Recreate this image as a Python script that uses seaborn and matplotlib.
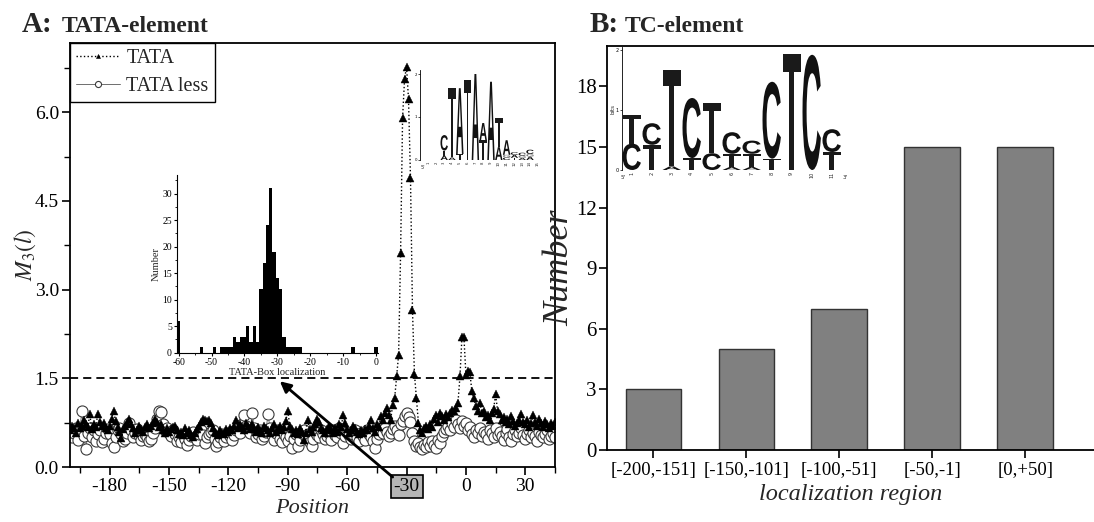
import numpy as np
import pandas as pd
import seaborn as sns
import matplotlib.pyplot as plt
import matplotlib.ticker as ticker
from matplotlib.textpath import TextPath
from matplotlib.patches import PathPatch
from matplotlib.font_manager import FontProperties
from matplotlib.transforms import Affine2D

# ---- data: panel A, M3(l) profiles (positions -200..45) ----
positions = list(range(-200, 46))

tata = [
    0.62, 0.70, 0.66, 0.58, 0.74, 0.66, 0.70, 0.80, 0.72, 0.68,
    0.89, 0.64, 0.72, 0.68, 0.89, 0.76, 0.70, 0.74, 0.66, 0.62,
    0.70, 0.82, 0.95, 0.78, 0.68, 0.60, 0.49, 0.64, 0.70, 0.74,
    0.82, 0.72, 0.66, 0.58, 0.62, 0.70, 0.64, 0.60, 0.68, 0.72,
    0.66, 0.70, 0.74, 0.82, 0.76, 0.68, 0.72, 0.62, 0.58, 0.66,
    0.60, 0.64, 0.68, 0.70, 0.62, 0.56, 0.60, 0.54, 0.66, 0.58,
    0.62, 0.54, 0.50, 0.58, 0.64, 0.70, 0.76, 0.82, 0.80, 0.78,
    0.80, 0.74, 0.66, 0.60, 0.58, 0.54, 0.62, 0.58, 0.56, 0.64,
    0.60, 0.66, 0.62, 0.70, 0.79, 0.66, 0.72, 0.68, 0.62, 0.74,
    0.70, 0.64, 0.72, 0.66, 0.60, 0.68, 0.62, 0.58, 0.70, 0.66,
    0.62, 0.58, 0.66, 0.72, 0.60, 0.64, 0.70, 0.62, 0.68, 0.78,
    0.95, 0.70, 0.64, 0.58, 0.62, 0.56, 0.66, 0.60, 0.46, 0.58,
    0.80, 0.64, 0.60, 0.68, 0.72, 0.82, 0.76, 0.66, 0.62, 0.58,
    0.64, 0.70, 0.62, 0.58, 0.66, 0.60, 0.72, 0.68, 0.88, 0.74,
    0.64, 0.58, 0.62, 0.70, 0.66, 0.60, 0.56, 0.62, 0.58, 0.64,
    0.62, 0.70, 0.79, 0.66, 0.60, 0.72, 0.68, 0.87, 0.80, 0.92,
    1.00, 0.88, 0.80, 1.05, 1.16, 1.54, 1.90, 3.62, 5.90, 6.56,
    6.77, 6.22, 4.89, 2.66, 1.57, 1.16, 0.75, 0.62, 0.58, 0.66,
    0.70, 0.64, 0.72, 0.68, 0.82, 0.88, 0.76, 0.92, 0.86, 0.80,
    0.90, 0.84, 0.92, 0.96, 0.95, 1.00, 1.09, 1.54, 2.20, 2.19,
    1.56, 1.62, 1.60, 1.28, 1.16, 1.03, 0.95, 1.09, 0.92, 0.95,
    0.84, 0.88, 0.80, 0.92, 0.98, 1.23, 0.95, 0.89, 0.80, 0.84,
    0.76, 0.82, 0.72, 0.86, 0.78, 0.70, 0.74, 0.80, 0.89, 0.76,
    0.72, 0.80, 0.68, 0.74, 0.88, 0.76, 0.70, 0.82, 0.74, 0.68,
    0.78, 0.72, 0.66, 0.74, 0.70, 0.76,
]

tata_less = [
    0.62, 0.50, 0.58, 0.66, 0.45, 0.62, 0.95, 0.52, 0.30, 0.58,
    0.66, 0.50, 0.62, 0.44, 0.56, 0.62, 0.42, 0.48, 0.58, 0.64,
    0.56, 0.40, 0.34, 0.50, 0.62, 0.66, 0.56, 0.44, 0.48, 0.58,
    0.74, 0.62, 0.50, 0.58, 0.64, 0.54, 0.46, 0.52, 0.56, 0.50,
    0.44, 0.48, 0.58, 0.66, 0.82, 0.95, 0.93, 0.72, 0.62, 0.66,
    0.58, 0.52, 0.62, 0.56, 0.44, 0.50, 0.42, 0.54, 0.48, 0.38,
    0.46, 0.52, 0.60, 0.50, 0.46, 0.56, 0.62, 0.54, 0.40, 0.50,
    0.56, 0.60, 0.62, 0.48, 0.36, 0.42, 0.50, 0.56, 0.44, 0.50,
    0.58, 0.52, 0.46, 0.54, 0.62, 0.66, 0.58, 0.72, 0.88, 0.70,
    0.62, 0.58, 0.92, 0.66, 0.50, 0.56, 0.62, 0.48, 0.52, 0.60,
    0.90, 0.66, 0.54, 0.46, 0.58, 0.62, 0.48, 0.42, 0.56, 0.50,
    0.44, 0.52, 0.32, 0.48, 0.56, 0.35, 0.46, 0.58, 0.62, 0.50,
    0.56, 0.42, 0.35, 0.48, 0.60, 0.54, 0.50, 0.62, 0.56, 0.48,
    0.52, 0.58, 0.46, 0.62, 0.54, 0.50, 0.66, 0.58, 0.40, 0.52,
    0.60, 0.54, 0.48, 0.56, 0.62, 0.50, 0.44, 0.58, 0.52, 0.46,
    0.62, 0.56, 0.50, 0.44, 0.32, 0.48, 0.56, 0.62, 0.58, 0.66,
    0.60, 0.52, 0.58, 0.64, 0.70, 0.62, 0.54, 0.72, 0.78, 0.87,
    0.92, 0.84, 0.76, 0.58, 0.44, 0.36, 0.40, 0.33, 0.30, 0.38,
    0.34, 0.42, 0.36, 0.44, 0.38, 0.32, 0.46, 0.40, 0.52, 0.60,
    0.64, 0.70, 0.62, 0.74, 0.68, 0.80, 0.72, 0.66, 0.78, 0.70,
    0.74, 0.62, 0.68, 0.56, 0.50, 0.62, 0.58, 0.66, 0.52, 0.60,
    0.56, 0.48, 0.62, 0.58, 0.50, 0.66, 0.54, 0.60, 0.52, 0.46,
    0.58, 0.64, 0.50, 0.44, 0.56, 0.62, 0.52, 0.58, 0.66, 0.54,
    0.48, 0.56, 0.62, 0.50, 0.58, 0.52, 0.44, 0.60, 0.54, 0.50,
    0.56, 0.62, 0.48, 0.52, 0.58, 0.50,
]

threshold = 1.5

# inset histogram: TATA-box localization
hist_pos = [-60, -53, -49, -47, -46, -45, -44, -43, -42, -41, -40, -39, -38, -37, -36,
            -35, -34, -33, -32, -31, -30, -29, -28, -27, -26, -25, -24, -23, -7, 0]
hist_counts = [6, 1, 1, 1, 1, 1, 1, 3, 2, 3, 3, 5, 2, 5, 2,
               12, 17, 24, 31, 19, 14, 12, 3, 1, 1, 1, 1, 1, 1, 1]

# sequence logos (bottom -> top stacks, heights in bits)
logo_tata = [[], [],
             [('A', 0.10), ('T', 0.12), ('C', 0.36)],
             [('A', 0.06), ('T', 1.62)],
             [('T', 0.14), ('A', 1.53)],
             [('T', 1.86)],
             [('A', 2.0)],
             [('T', 0.46), ('A', 0.40)],
             [('A', 1.82)],
             [('A', 0.30), ('T', 0.68)],
             [('C', 0.06), ('G', 0.06), ('A', 0.34)],
             [('T', 0.05), ('A', 0.07), ('C', 0.06)],
             [('A', 0.05), ('G', 0.05), ('C', 0.07)],
             [('A', 0.08), ('G', 0.06), ('C', 0.10)],
             []]
logo_tc = [[('C', 0.44), ('T', 0.48)],
           [('T', 0.42), ('C', 0.36)],
           [('A', 0.06), ('T', 1.60)],
           [('T', 0.20), ('C', 1.00)],
           [('C', 0.28), ('T', 0.84)],
           [('A', 0.05), ('T', 0.22), ('C', 0.36)],
           [('A', 0.05), ('T', 0.22), ('C', 0.22)],
           [('T', 0.19), ('C', 1.28)],
           [('T', 1.94)],
           [('C', 1.92)],
           [('T', 0.30), ('C', 0.38)]]

# ---- data: panel B ----
regions = ['[-200,-151]', '[-150,-101]', '[-100,-51]', '[-50,-1]', '[0,+50]']
region_counts = [3, 5, 7, 15, 15]

sns.set_style('ticks')
plt.rcParams['font.family'] = ['Liberation Serif', 'DejaVu Serif']
plt.rcParams['mathtext.fontset'] = 'stix'
plt.rcParams['axes.unicode_minus'] = False
plt.rcParams['axes.edgecolor'] = 'black'
plt.rcParams['xtick.color'] = 'black'
plt.rcParams['ytick.color'] = 'black'

W, H = 1094, 522
fig = plt.figure(figsize=(W / 100, H / 100), dpi=100)

letter_font = FontProperties(family='Liberation Sans', weight='bold')
letter_colors = {'A': '#111111', 'C': '#111111', 'G': '#7a7a7a', 'T': '#1a1a1a'}


def draw_letter(ax, ch, x, y, w, h):
    tp = TextPath((0, 0), ch, size=1, prop=letter_font)
    bb = tp.get_extents()
    tr = Affine2D().translate(-bb.x0, -bb.y0).scale(w / bb.width, h / bb.height).translate(x, y)
    ax.add_patch(PathPatch(tr.transform_path(tp), facecolor=letter_colors[ch], edgecolor='none', lw=0))


def draw_logo(ax, stacks, width, fs):
    for i, stack in enumerate(stacks):
        pos = i + 1
        y0 = 0
        for ch, h in stack:
            draw_letter(ax, ch, pos - width / 2, y0, width, h)
            y0 += h
        ax.text(pos, -0.03, str(pos), rotation=90, fontsize=fs, ha='center', va='top',
                family='DejaVu Sans', clip_on=False)
    for s in ['top', 'right', 'bottom']:
        ax.spines[s].set_visible(False)
    ax.spines['left'].set_linewidth(0.6)
    ax.set_xticks([])
    ax.set_yticks([0, 1, 2])
    ax.set_yticklabels(['0', '1', '2'], family='DejaVu Sans')
    ax.tick_params(axis='y', labelsize=fs, length=1.5, width=0.5, pad=0.5)
    ax.patch.set_alpha(0)


# ---------------- Panel A ----------------
axA = fig.add_axes([70 / W, 1 - 467 / H, (555 - 70) / W, (467 - 43) / H])
sns.lineplot(x=positions, y=tata_less, ax=axA, color='#6e6e6e', lw=0.7, marker='o',
             markersize=8, markerfacecolor='white', markeredgecolor='#3a3a3a',
             markeredgewidth=0.8, label='TATA less', errorbar=None)
sns.lineplot(x=positions, y=tata, ax=axA, color='black', lw=1.0, linestyle=':', marker='^',
             markersize=5.5, markeredgecolor='black', markeredgewidth=0.3,
             label='TATA', errorbar=None)
axA.axhline(threshold, color='black', lw=1.3, ls=(0, (4.5, 2.8)))
axA.set_xlim(-200, 45)
axA.set_ylim(0, 7.17)
xt = list(range(-180, 31, 30))
axA.set_xticks(xt)
axA.set_xticklabels([str(v) for v in xt])
axA.xaxis.set_minor_locator(ticker.MultipleLocator(15))
axA.set_yticks([0, 1.5, 3.0, 4.5, 6.0])
axA.set_yticklabels(['0.0', '1.5', '3.0', '4.5', '6.0'])
axA.yaxis.set_minor_locator(ticker.MultipleLocator(0.75))
axA.tick_params(axis='both', which='major', labelsize=14, length=6, width=1.2, direction='out', pad=2)
axA.tick_params(axis='both', which='minor', length=4, width=1.0, direction='out')
for s in axA.spines.values():
    s.set_linewidth(1.3)
for lab in axA.get_xticklabels():
    if lab.get_text() == '-30':
        lab.set_bbox(dict(facecolor='#b5b5b5', edgecolor='black', boxstyle='square,pad=0.15', lw=1.2))
axA.set_xlabel('Position', fontsize=16, style='italic', labelpad=3)
axA.set_ylabel(r'$M_3(l)$', fontsize=17)
axA.yaxis.set_label_coords(-0.066, 0.5)
handles, labels = axA.get_legend_handles_labels()
order = [labels.index('TATA'), labels.index('TATA less')]
leg = axA.legend([handles[i] for i in order], [labels[i] for i in order], loc='upper left',
                 borderaxespad=0, fancybox=False, edgecolor='black', framealpha=1,
                 fontsize=14.5, markerscale=0.55, handlelength=2.2, handletextpad=0.3,
                 borderpad=0.3, labelspacing=0.45)
leg.get_frame().set_linewidth(1.0)
axA.annotate('', xy=(-94, 1.45), xytext=(-37, -0.17),
             arrowprops=dict(arrowstyle='-|>', color='black', lw=2.0, mutation_scale=16,
                             shrinkA=0, shrinkB=0),
             annotation_clip=False)

# inset histogram
insA = fig.add_axes([176.7 / W, 1 - 352.7 / H, (378 - 176.7) / W, (352.7 - 175) / H])
sns.histplot(x=hist_pos, weights=hist_counts, discrete=True, color='black', alpha=1,
             linewidth=0, ax=insA)
insA.set_xlim(-60.6, 0.6)
insA.set_ylim(0, 33.5)
insA.set_xticks(list(range(-60, 1, 10)))
insA.set_xticklabels([str(v) for v in range(-60, 1, 10)])
insA.xaxis.set_minor_locator(ticker.MultipleLocator(5))
insA.set_yticks(list(range(0, 31, 5)))
insA.yaxis.set_minor_locator(ticker.MultipleLocator(2.5))
insA.tick_params(axis='both', which='major', labelsize=7, length=2.5, width=0.8, pad=1)
insA.tick_params(axis='both', which='minor', length=1.5, width=0.6)
insA.spines['top'].set_visible(False)
insA.spines['right'].set_visible(False)
for s in ['left', 'bottom']:
    insA.spines[s].set_linewidth(0.8)
insA.set_xlabel('TATA-Box localization', fontsize=7.5, labelpad=1)
insA.set_ylabel('Number', fontsize=7.5, labelpad=1)
insA.patch.set_alpha(0)

# TATA logo
logoA = fig.add_axes([420 / W, 1 - 160 / H, 122.5 / W, 90.3 / H])
logoA.set_xlim(-0.1, 15.6)
logoA.set_ylim(0, 2.1)
draw_logo(logoA, logo_tata, 0.95, 2.8)
logoA.text(-0.05, -0.12, "5'", fontsize=3.5, ha='left', va='top', family='DejaVu Sans')

# ---------------- Panel B ----------------
axB = fig.add_axes([607 / W, 1 - 450 / H, 1 - 607 / W, (450 - 46) / H])
sns.barplot(x=regions, y=region_counts, ax=axB, color='#808080', saturation=1,
            edgecolor='#333333', linewidth=1.0, width=0.6)
axB.set_xlim(-0.5, 4.74)
axB.set_ylim(0, 20)
axB.set_yticks(list(range(0, 19, 3)))
axB.tick_params(axis='y', labelsize=15, length=6, width=1.2, direction='out', pad=1.5)
axB.tick_params(axis='x', labelsize=13.5, length=6, width=1.2, direction='out', pad=3)
axB.spines['right'].set_visible(False)
for s in ['left', 'bottom', 'top']:
    axB.spines[s].set_linewidth(1.3)
axB.set_xlabel('localization region', fontsize=17.5, style='italic', labelpad=3)
axB.set_ylabel('Number', fontsize=26, style='italic')
axB.yaxis.set_label_coords(-0.064, 0.45)

# TC logo
logoB = fig.add_axes([621.7 / W, 1 - 170 / H, 222 / W, 123 / H])
logoB.set_xlim(0.5, 11.6)
logoB.set_ylim(0, 2.05)
draw_logo(logoB, logo_tc, 0.92, 3.5)
logoB.set_ylabel('bits', fontsize=4, family='DejaVu Sans', labelpad=0)
logoB.text(0.45, -0.09, "5'", fontsize=4, ha='left', va='top', family='DejaVu Sans')
logoB.text(11.55, -0.09, "3'", fontsize=4, ha='left', va='top', family='DejaVu Sans')

# panel titles
fig.text(22 / W, 1 - 32 / H, 'A:', fontsize=21, weight='bold', va='baseline')
fig.text(62 / W, 1 - 32 / H, 'TATA-element', fontsize=17, weight='bold', va='baseline')
fig.text(590 / W, 1 - 32 / H, 'B:', fontsize=21, weight='bold', va='baseline')
fig.text(625 / W, 1 - 32 / H, 'TC-element', fontsize=17, weight='bold', va='baseline')

fig.savefig('out.png', dpi=100)
